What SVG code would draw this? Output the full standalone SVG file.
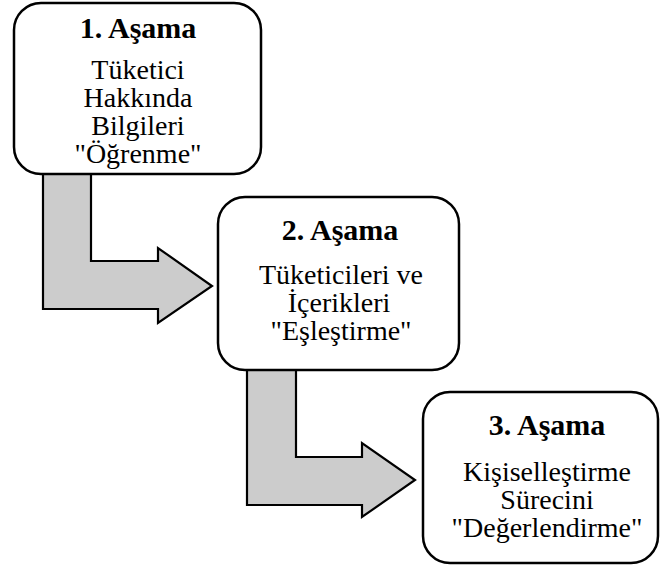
<svg xmlns="http://www.w3.org/2000/svg" width="660" height="568" viewBox="0 0 660 568">
  <style>
    .box { fill: #ffffff; stroke: #000000; stroke-width: 2.5; }
    .arrow { fill: #cccccc; stroke: #000000; stroke-width: 2.2; stroke-linejoin: miter; }
    .title { font-family: "Liberation Serif", "Times New Roman", serif; font-size: 30px; font-weight: bold; text-anchor: middle; fill: #000; }
    .body { font-family: "Liberation Serif", "Times New Roman", serif; font-size: 28px; text-anchor: middle; fill: #000; }
  </style>
  <rect width="660" height="568" fill="#ffffff"/>

  <!-- bent block arrows between stages -->
  <g id="connectors">
    <polygon class="arrow" points="43,172 91,172 91,261 158,261 158,248 212,286 158,323 158,309 43,309"/>
    <polygon class="arrow" points="247,368 296,368 296,457 362,457 362,443 415,480 362,517 362,505 247,505"/>
  </g>

  <g id="stage1">
    <rect class="box" x="14" y="3" width="247" height="171" rx="27" ry="27"/>
    <text class="title" x="138" y="38">1. Aşama</text>
    <text class="body" x="138" y="79">Tüketici</text>
    <text class="body" x="138" y="107">Hakkında</text>
    <text class="body" x="138" y="135">Bilgileri</text>
    <text class="body" x="138" y="163">"Öğrenme"</text>
  </g>

  <g id="stage2">
    <rect class="box" x="218" y="197" width="241" height="173" rx="27" ry="27"/>
    <text class="title" x="340" y="240">2. Aşama</text>
    <text class="body" x="341" y="284">Tüketicileri ve</text>
    <text class="body" x="339" y="312">İçerikleri</text>
    <text class="body" x="341" y="340">"Eşleştirme"</text>
  </g>

  <g id="stage3">
    <rect class="box" x="423" y="392" width="235" height="171" rx="27" ry="27"/>
    <text class="title" x="547" y="435">3. Aşama</text>
    <text class="body" x="547" y="481">Kişiselleştirme</text>
    <text class="body" x="547" y="509">Sürecini</text>
    <text class="body" x="547" y="537">"Değerlendirme"</text>
  </g>
</svg>
